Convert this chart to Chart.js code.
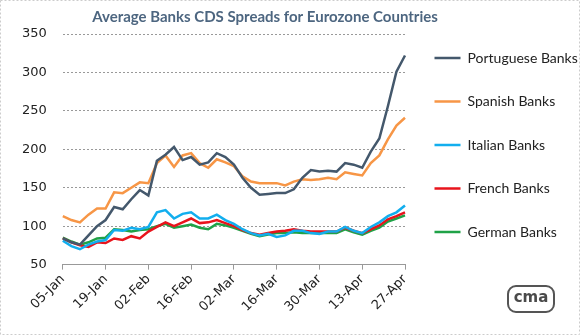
<!DOCTYPE html>
<html>
<head>
<meta charset="utf-8">
<script src="https://cdn.jsdelivr.net/npm/chart.js@4"></script>
<style>
    body { margin: 0; background: #fff; }
    #wrap { width: 580px; height: 335px; position: relative; }
</style>
</head>
<body>
<div id="wrap"><canvas id="cds"></canvas></div>
<script>
const TITLE = 'Average Banks CDS Spreads for Eurozone Countries';

// every other business day, 05-Jan to 27-Apr
const dates = [
    '05-Jan', '07-Jan', '09-Jan', '13-Jan', '15-Jan', '19-Jan', '21-Jan', '23-Jan', '27-Jan', '29-Jan',
    '02-Feb', '04-Feb', '06-Feb', '10-Feb', '12-Feb', '16-Feb', '18-Feb', '20-Feb', '24-Feb', '26-Feb',
    '02-Mar', '04-Mar', '06-Mar', '10-Mar', '12-Mar', '16-Mar', '18-Mar', '20-Mar', '24-Mar', '26-Mar',
    '30-Mar', '01-Apr', '03-Apr', '07-Apr', '09-Apr', '13-Apr', '15-Apr', '17-Apr', '21-Apr', '23-Apr',
    '27-Apr'
];

const portuguese = [84, 79, 76, 88, 100, 108, 125, 122, 135, 147,
    140, 185, 193, 203, 186, 190, 180, 183, 195, 190,
    180, 163, 150, 141, 142, 143, 143, 148, 163, 173,
    171, 172, 171, 182, 180, 176, 197, 214, 256, 301,
    322];
const spanish = [113, 108, 105, 115, 123, 123, 144, 143, 150, 157,
    156, 182, 192, 177, 192, 195, 182, 176, 187, 183,
    178, 165, 158, 156, 156, 156, 153, 158, 161, 160,
    161, 163, 161, 170, 168, 166, 182, 192, 213, 231,
    241];
const italian = [81, 74, 70, 76, 80, 82, 95, 94, 98, 96,
    99, 118, 121, 110, 116, 118, 110, 110, 115, 108,
    103, 96, 91, 88, 90, 86, 88, 94, 94, 91,
    90, 93, 93, 99, 94, 91, 99, 105, 113, 118,
    127];
const french = [84, 79, 75, 73, 79, 78, 84, 82, 87, 84,
    93, 99, 105, 100, 105, 110, 104, 105, 108, 104,
    100, 95, 91, 89, 91, 93, 94, 96, 94, 93,
    93, 93, 93, 98, 94, 91, 96, 101, 109, 113,
    118];
const german = [85, 80, 76, 79, 84, 85, 96, 95, 93, 95,
    96, 100, 103, 98, 100, 102, 98, 96, 103, 101,
    98, 94, 90, 87, 89, 91, 91, 92, 91, 91,
    91, 91, 91, 96, 92, 89, 94, 98, 106, 110,
    114];

const series = [
    {label: 'Portuguese Banks', data: portuguese, color: '#44586c'},
    {label: 'Spanish Banks', data: spanish, color: '#f79646'},
    {label: 'Italian Banks', data: italian, color: '#12aeee'},
    {label: 'French Banks', data: french, color: '#e8141c'},
    {label: 'German Banks', data: german, color: '#1fa247'},
];

const yMin = 50, yMax = 350, yStep = 50;

// title and the cma logo
const decorPlugin = {
    id: 'decor',
    afterDraw(chart) {
        const c = chart.ctx;
        c.save();
        c.font = 'bold 15px Lato';
        c.fillStyle = '#4d6680';
        c.textAlign = 'center';
        c.textBaseline = 'middle';
        c.fillText(TITLE, 265, 17);

        c.strokeStyle = '#555';
        c.lineWidth = 2;
        c.beginPath();
        c.roundRect(508, 286, 46, 26, 8);
        c.stroke();
        c.font = 'bold 15px "DejaVu Sans"';
        c.fillStyle = '#4a4a4a';
        c.fillText('cma', 531, 298);

        c.strokeStyle = '#ccc';
        c.lineWidth = 1;
        c.setLineDash([2, 2]);
        c.strokeRect(0.5, 0.5, 579, 334);
        c.restore();
    }
};

// fixed legend column on the right
const legendPlace = {
    id: 'legendPlace',
    beforeInit(chart) {
        const fit = chart.legend.fit;
        chart.legend.fit = function () {
            fit.call(this);
            this.width = 175;
        };
    },
    afterLayout(chart) {
        chart.legend.top = 21.5;
    }
};

new Chart(document.getElementById('cds').getContext('2d'), {
    type: 'line',
    data: {
        labels: dates,
        datasets: series.map(s => {
            return {
                label: s.label,
                data: s.data,
                borderColor: s.color,
                backgroundColor: s.color,
                borderWidth: 2.5,
                pointRadius: 0,
                tension: 0,
                fill: false,
            }
        })
    },
    options: {
        responsive: true,
        maintainAspectRatio: false,
        animation: false,
        layout: {padding: {top: 34, left: 6, right: 0, bottom: 18}},
        plugins: {
            title: {display: false},
            tooltip: {enabled: false},
            legend: {
                position: 'right',
                align: 'start',
                labels: {
                    font: {family: 'Lato', size: 14},
                    color: '#222',
                    usePointStyle: true,
                    pointStyle: 'line',
                    pointStyleWidth: 26,
                    boxHeight: 14,
                    padding: 29.5,
                }
            }
        },
        scales: {
            x: {
                grid: {
                    drawOnChartArea: false,
                    drawTicks: true,
                    tickLength: 5,
                    color: ctx => ctx.index % 5 === 0 ? '#999' : 'rgba(0,0,0,0)',
                },
                border: {display: true, color: '#999', width: 1},
                ticks: {
                    autoSkip: false,
                    maxRotation: 45,
                    minRotation: 45,
                    padding: 2,
                    font: {family: 'DejaVu Sans', size: 13},
                    color: '#222',
                    callback: function (val, i) {
                        return i % 5 === 0 ? this.getLabelForValue(val) : '';
                    }
                }
            },
            y: {
                min: yMin,
                max: yMax,
                ticks: {
                    stepSize: yStep,
                    padding: 16,
                    font: {family: 'DejaVu Sans', size: 13},
                    color: '#222',
                },
                grid: {
                    drawTicks: false,
                    color: ctx => ctx.tick && ctx.tick.value === yMin ? 'rgba(0,0,0,0)' : '#999',
                    lineWidth: 1,
                },
                border: {display: false, dash: [2, 2]},
            }
        }
    },
    plugins: [decorPlugin, legendPlace]
});
</script>
</body>
</html>
